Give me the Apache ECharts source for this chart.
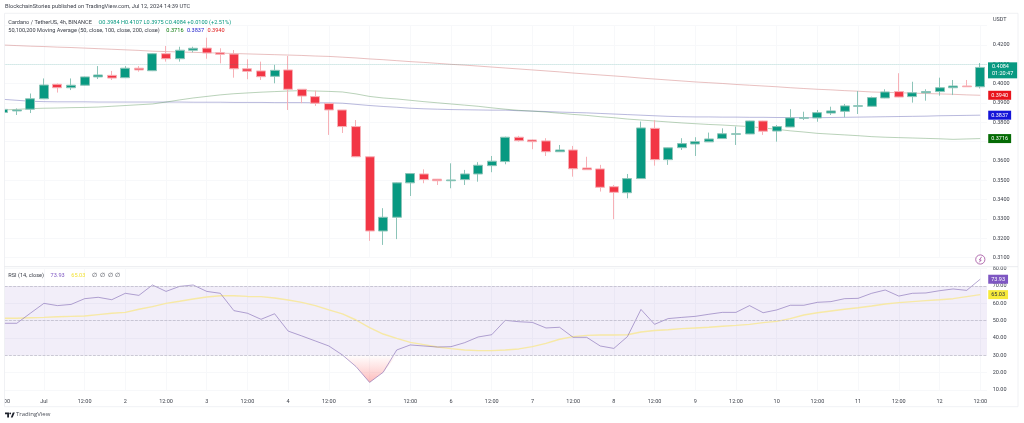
<!DOCTYPE html>
<html>
<head>
<meta charset="utf-8">
<title>ADA/USDT</title>
<script src="https://cdn.jsdelivr.net/npm/echarts@6/dist/echarts.min.js"></script>
<style>
html,body{margin:0;padding:0;background:#fff;}
#main{width:1024px;height:423px;}
</style>
</head>
<body>
<div id="main"></div>
<script>
// x axis, one entry per 4h candle, Jun 30 12:00 to Jul 12 12:00
var categories = [
    '12:00','16:00','20:00','Jul','04:00','08:00','12:00','16:00','20:00','2','04:00','08:00',
    '12:00','16:00','20:00','3','04:00','08:00','12:00','16:00','20:00','4','04:00','08:00',
    '12:00','16:00','20:00','5','04:00','08:00','12:00','16:00','20:00','6','04:00','08:00',
    '12:00','16:00','20:00','7','04:00','08:00','12:00','16:00','20:00','8','04:00','08:00',
    '12:00','16:00','20:00','9','04:00','08:00','12:00','16:00','20:00','10','04:00','08:00',
    '12:00','16:00','20:00','11','04:00','08:00','12:00','16:00','20:00','12','04:00','08:00',
    '12:00'
];
var opens = [
    .3851,.3859,.3868,.3922,.3997,.3979,.3992,.4035,.4043,.4031,.4080,.4067,
    .4155,.4129,.4173,.4184,.4160,.4153,.4077,.4066,.4038,.4071,.3971,.3933,
    .3897,.3864,.3778,.3622,.3238,.3309,.3487,.3533,.3506,.3498,.3504,.3533,
    .3576,.3597,.3723,.3709,.3704,.3648,.3657,.3564,.3559,.3467,.3436,.3509,
    .3769,.3607,.3669,.3688,.3699,.3716,.3738,.3740,.3807,.3755,.3776,.3821,
    .3823,.3848,.3857,.3883,.3883,.3926,.3959,.3933,.3953,.3959,.3979,.3988,
    .3984
];
var closes = [
    .3867,.3864,.3922,.3993,.3979,.3992,.4035,.4045,.4029,.4080,.4071,.4155,
    .4129,.4173,.4183,.4159,.4152,.4077,.4064,.4036,.4069,.3971,.3936,.3899,
    .3864,.3778,.3622,.3238,.3309,.3487,.3535,.3504,.3498,.3502,.3533,.3578,
    .3599,.3723,.3705,.3700,.3648,.3657,.3560,.3555,.3464,.3438,.3509,.3771,
    .3607,.3668,.3690,.3700,.3714,.3741,.3741,.3807,.3754,.3778,.3823,.3824,
    .3850,.3859,.3885,.3886,.3928,.3957,.3931,.3953,.3959,.3979,.3988,.3984,
    .4084
];
var lows = [
    .3843,.3838,.3848,.3920,.3954,.3967,.3990,.4024,.4019,.4029,.4062,.4065,
    .4114,.4114,.4162,.4129,.4105,.4031,.4023,.4019,.4002,.3864,.3899,.3885,
    .3735,.3745,.3620,.3187,.3166,.3196,.3419,.3485,.3476,.3459,.3476,.3493,
    .3542,.3583,.3700,.3661,.3626,.3647,.3519,.3554,.3442,.3299,.3407,.3507,
    .3576,.3580,.3657,.3626,.3698,.3715,.3683,.3739,.3735,.3700,.3775,.3812,
    .3803,.3838,.3826,.3843,.3882,.3925,.3930,.3902,.3912,.3938,.3941,.3983,
    .3975
];
var highs = [
    .3874,.3872,.3949,.4027,.4001,.4027,.4037,.4091,.4066,.4091,.4091,.4157,
    .4195,.4191,.4191,.4238,.4183,.4174,.4126,.4114,.4097,.4143,.3972,.3964,
    .3897,.3864,.3812,.3624,.3356,.3489,.3537,.3557,.3507,.3588,.3554,.3594,
    .3626,.3726,.3730,.3712,.3718,.3683,.3678,.3622,.3580,.3476,.3533,.3804,
    .3812,.3669,.3718,.3723,.3747,.3769,.3778,.3808,.3808,.3786,.3868,.3855,
    .3864,.3881,.3895,.3962,.3933,.3971,.4054,.4010,.3971,.4031,.4019,.4019,
    .4107
];
var ma50 = [
    .3864,.3867,.3871,.3873,.3874,.3876,.3877,.3879,.3883,.3887,.3891,.3895,
    .3905,.3916,.3926,.3934,.3942,.3948,.3952,.3956,.3959,.3962,.3964,.3962,
    .3960,.3957,.3947,.3934,.3926,.3921,.3914,.3907,.3901,.3895,.3889,.3883,
    .3875,.3868,.3862,.3858,.3853,.3847,.3841,.3836,.3829,.3824,.3817,.3812,
    .3807,.3802,.3797,.3793,.3789,.3786,.3782,.3778,.3771,.3764,.3756,.3750,
    .3743,.3739,.3735,.3731,.3726,.3723,.3721,.3719,.3717,.3715,.3712,.3714,
    .3716
];
var ma100 = [
    .3919,.3914,.3909,.3907,.3906,.3906,.3906,.3905,.3905,.3905,.3905,.3905,
    .3905,.3905,.3904,.3904,.3904,.3903,.3903,.3903,.3902,.3902,.3902,.3901,
    .3901,.3899,.3893,.3887,.3882,.3878,.3873,.3870,.3868,.3866,.3865,.3864,
    .3863,.3863,.3860,.3858,.3856,.3853,.3851,.3849,.3846,.3843,.3840,.3837,
    .3834,.3831,.3829,.3828,.3828,.3827,.3827,.3826,.3826,.3825,.3825,.3824,
    .3824,.3825,.3826,.3827,.3828,.3829,.3830,.3831,.3832,.3834,.3835,.3836,
    .3837
];
var ma200 = [
    .4200,.4197,.4194,.4192,.4189,.4187,.4184,.4181,.4178,.4175,.4172,.4168,
    .4166,.4164,.4162,.4160,.4158,.4156,.4154,.4152,.4150,.4148,.4146,.4143,
    .4141,.4137,.4133,.4128,.4124,.4119,.4114,.4110,.4105,.4100,.4096,.4091,
    .4086,.4081,.4076,.4071,.4066,.4061,.4055,.4050,.4045,.4040,.4035,.4029,
    .4024,.4019,.4014,.4009,.4005,.4001,.3996,.3992,.3988,.3984,.3979,.3975,
    .3971,.3968,.3964,.3961,.3957,.3955,.3953,.3951,.3949,.3947,.3945,.3942,
    .3940
];
var rsi = [
    48.5,48.5,54.3,60.0,58.7,59.4,62.7,63.5,62.1,65.8,64.6,70.6,
    66.9,69.8,70.6,66.9,65.8,55.8,54.3,50.8,54.0,44.0,41.2,38.3,
    35.4,30.2,23.5,14.4,20.2,33.1,36.0,35.4,34.8,35.0,37.3,40.6,
    41.9,50.2,49.4,49.0,45.8,46.2,40.4,40.4,35.4,34.0,40.8,56.5,
    47.9,51.2,51.9,52.5,53.7,54.8,54.8,58.7,54.6,56.2,58.9,58.9,
    60.6,61.0,62.7,62.9,65.8,67.7,64.2,65.8,66.0,67.3,68.3,67.5,
    73.93
];
var rsiMa = [
    51.4,51.4,51.7,51.9,52.3,52.5,52.7,53.5,54.3,54.8,56.6,58.1,
    60.0,61.2,62.5,63.7,64.4,64.4,64.0,63.9,63.1,61.9,60.6,58.7,
    56.2,53.9,50.4,46.0,42.3,39.8,37.5,36.2,34.8,33.9,33.1,32.7,
    32.7,33.1,33.7,35.0,36.9,39.3,40.8,41.5,41.7,41.7,41.9,43.5,
    44.3,44.8,45.4,45.8,46.2,46.8,47.3,47.9,48.9,49.6,51.2,53.3,
    54.6,55.6,56.6,57.5,58.5,59.6,60.4,61.0,61.6,62.1,62.7,63.9,
    65.03
];

var candleData = categories.map(function (c, i) {
    return [opens[i], closes[i], lows[i], highs[i]];
});
// only the part of the RSI under the oversold line gets the red fill
var rsiLow = rsi.map(function (v) { return v < 30 ? v : 30; });

var UP = '#089981', DOWN = '#f23645';
var FONT = 'Roboto, "Liberation Sans", sans-serif';
var faint = '#f7f8fa';

function lastTag(bg, fg, digits) {
    return {
        show: true,
        distance: 8,
        fontFamily: FONT,
        fontSize: 5.5,
        color: fg,
        backgroundColor: bg,
        padding: [1.5, 3, 1.5, 3],
        formatter: function (p) { return p.value[1] !== undefined ? p.value[1].toFixed(digits) : p.value.toFixed(digits); }
    };
}

var myChart = echarts.init(document.getElementById('main'), null, {renderer: 'canvas'});
var option = {
    animation: false,
    backgroundColor: '#fff',
    grid: [
        {left: -3.585, width: 990.6, top: 25.67, height: 232, containLabel: false, outerBoundsMode: 'none'},
        {left: -3.585, width: 990.6, top: 268.7, height: 121.3, containLabel: false, outerBoundsMode: 'none'}
    ],
    xAxis: [
        {
            type: 'category', gridIndex: 0, data: categories,
            axisLine: {show: false}, axisTick: {show: false}, axisLabel: {show: false},
            splitLine: {show: true, interval: 2, alignWithLabel: true, lineStyle: {color: faint}}
        },
        {
            type: 'category', gridIndex: 1, data: categories,
            axisLine: {show: false}, axisTick: {show: false},
            axisLabel: {interval: 2, margin: 9, fontFamily: FONT, fontSize: 5.5, color: '#3a3e48', hideOverlap: false},
            splitLine: {show: true, interval: 2, alignWithLabel: true, lineStyle: {color: faint}}
        }
    ],
    yAxis: [
        {
            type: 'value', gridIndex: 0, position: 'right', min: 0.31, max: 0.43, interval: 0.01,
            axisLine: {show: false}, axisTick: {show: false},
            axisLabel: {
                margin: 5.7, fontFamily: FONT, fontSize: 5.5, color: '#3a3e48',
                formatter: function (v) { return v > 0.425 ? '' : v.toFixed(4); }
            },
            splitLine: {lineStyle: {color: faint}}
        },
        {
            type: 'value', gridIndex: 1, position: 'right', min: 10, max: 80, interval: 10,
            axisLine: {show: false}, axisTick: {show: false},
            axisLabel: {
                margin: 5.7, fontFamily: FONT, fontSize: 5.5, color: '#3a3e48',
                formatter: function (v) { return v.toFixed(2); }
            },
            splitLine: {lineStyle: {color: faint}}
        }
    ],
    series: [
        {
            name: 'MA200', type: 'line', xAxisIndex: 0, yAxisIndex: 0, data: ma200, symbol: 'none', z: 3,
            lineStyle: {color: 'rgba(205,110,110,0.55)', width: 0.8},
            endLabel: lastTag('#e8141c', '#fff', 4)
        },
        {
            name: 'MA100', type: 'line', xAxisIndex: 0, yAxisIndex: 0, data: ma100, symbol: 'none', z: 3,
            lineStyle: {color: 'rgba(80,80,170,0.5)', width: 0.8},
            endLabel: lastTag('#1414d8', '#fff', 4)
        },
        {
            name: 'MA50', type: 'line', xAxisIndex: 0, yAxisIndex: 0, data: ma50, symbol: 'none', z: 3,
            lineStyle: {color: 'rgba(60,130,60,0.45)', width: 0.8},
            endLabel: lastTag('#056b05', '#fff', 4)
        },
        {
            name: 'ADAUSDT', type: 'candlestick', xAxisIndex: 0, yAxisIndex: 0, data: candleData,
            barWidth: 9.5, z: 4,
            itemStyle: {color: UP, color0: DOWN, borderColor: '#8cc4b8', borderColor0: '#f7b0b6', borderWidth: 1},
            markLine: {
                silent: true, symbol: 'none',
                lineStyle: {color: 'rgba(8,153,129,0.25)', type: 'dotted', width: 1},
                label: {
                    position: 'end', distance: 1, offset: [0, 6],
                    fontFamily: FONT, fontSize: 5.5, lineHeight: 7, color: '#fff', align: 'left',
                    backgroundColor: UP, padding: [1, 4, 1, 4],
                    formatter: closes[closes.length - 1].toFixed(4) + '\n01:20:47'
                },
                data: [{yAxis: closes[closes.length - 1]}]
            }
        },
        {
            name: 'RSI', type: 'line', xAxisIndex: 1, yAxisIndex: 1, data: rsi, symbol: 'none', z: 4,
            lineStyle: {color: 'rgba(120,95,175,0.7)', width: 0.8},
            endLabel: lastTag('#7e57c2', '#fff', 2),
            markArea: {
                silent: true,
                itemStyle: {color: 'rgba(126,87,194,0.1)'},
                data: [[{yAxis: 30}, {yAxis: 70}]]
            },
            markLine: {
                silent: true, symbol: 'none', label: {show: false},
                lineStyle: {color: '#b9b6c6', type: 'dashed', width: 0.7},
                data: [{yAxis: 70}, {yAxis: 50}, {yAxis: 30}]
            }
        },
        {
            name: 'RSI MA', type: 'line', xAxisIndex: 1, yAxisIndex: 1, data: rsiMa, symbol: 'none', z: 3,
            lineStyle: {color: 'rgba(247,232,160,0.95)', width: 1.4},
            endLabel: lastTag('#f7ea3a', '#30343e', 2)
        },
        {
            name: 'Oversold', type: 'line', xAxisIndex: 1, yAxisIndex: 1, data: rsiLow, symbol: 'none', z: 2,
            lineStyle: {width: 0},
            areaStyle: {
                origin: 30,
                color: new echarts.graphic.LinearGradient(0, 0, 0, 1, [
                    {offset: 0, color: 'rgba(255,120,120,0.02)'},
                    {offset: 1, color: 'rgba(250,90,90,0.6)'}
                ])
            }
        }
    ],
    graphic: [
        // left cut-off of the panes
        {type: 'rect', z: 100, silent: true, shape: {x: 0, y: 10, width: 4.5, height: 396}, style: {fill: '#fff'}},
        // pane frame and separators
        {type: 'rect', z: 101, silent: true, shape: {x: 4.5, y: 13.3, width: 1013.5, height: 393.4}, style: {fill: 'none', stroke: '#eceef1', lineWidth: 0.8}},
        {type: 'line', z: 101, silent: true, shape: {x1: 4.5, y1: 266.7, x2: 1018, y2: 266.7}, style: {stroke: '#e4e6ea', lineWidth: 0.8}},
        {
            type: 'text', z: 102, left: 5, top: 4,
            style: {text: 'BlockchainStories published on TradingView.com, Jul 12, 2024 14:39 UTC', fontFamily: FONT, fontSize: 5.7, fill: '#3a3e48'}
        },
        {
            type: 'text', z: 102, left: 8.3, top: 16.5,
            style: {
                text: '{a|Cardano / TetherUS, 4h, BINANCE}  {u|O0.3984 H0.4107 L0.3975 C0.4084 +0.0100 (+2.51%)}',
                rich: {
                    a: {fontFamily: FONT, fontSize: 5.6, fill: '#3a3e48'},
                    u: {fontFamily: FONT, fontSize: 5.6, fill: UP}
                }
            }
        },
        {
            type: 'text', z: 102, left: 8.3, top: 24.7,
            style: {
                text: '{a|50,100,200 Moving Average (50, close, 100, close, 200, close)}  {g|0.3716} {b|0.3837} {r|0.3940}',
                rich: {
                    a: {fontFamily: FONT, fontSize: 5.6, fill: '#3a3e48'},
                    g: {fontFamily: FONT, fontSize: 5.6, fill: '#0a7a0a'},
                    b: {fontFamily: FONT, fontSize: 5.6, fill: '#2222cc'},
                    r: {fontFamily: FONT, fontSize: 5.6, fill: '#e02020'}
                }
            }
        },
        {
            type: 'text', z: 102, left: 8.3, top: 270,
            style: {
                text: '{a|RSI (14, close)}  {p|73.93}  {y|65.03}  {a|∅  ∅  ∅  ∅}',
                rich: {
                    a: {fontFamily: FONT, fontSize: 5.6, fill: '#3a3e48'},
                    p: {fontFamily: FONT, fontSize: 5.6, fill: '#7e57c2'},
                    y: {fontFamily: FONT, fontSize: 5.6, fill: '#f2e23a'}
                }
            }
        },
        {
            type: 'text', z: 102, left: 993, top: 16.5,
            style: {text: 'USDT', fontFamily: FONT, fontSize: 5.5, fill: '#3a3e48'}
        },
        // pink circle with the bolt
        {type: 'circle', z: 102, silent: true, shape: {cx: 980.3, cy: 259.5, r: 4.6}, style: {fill: '#fff', stroke: '#a04a9c', lineWidth: 0.8}},
        {type: 'polyline', z: 102, silent: true, shape: {points: [[981.6, 256.8], [979.4, 260], [981.2, 260], [979.2, 262.4]]}, style: {fill: 'none', stroke: '#a04a9c', lineWidth: 0.8}},
        // TradingView mark
        {type: 'polygon', z: 102, silent: true, shape: {points: [[5, 412.5], [9, 412.5], [9, 417.5], [7.2, 417.5], [7.2, 414.2], [5, 414.2]]}, style: {fill: '#1d212b'}},
        {type: 'circle', z: 102, silent: true, shape: {cx: 10.2, cy: 413.4, r: 0.9}, style: {fill: '#1d212b'}},
        {type: 'polygon', z: 102, silent: true, shape: {points: [[10.8, 417.5], [12.8, 412.5], [14.8, 412.5], [12.6, 417.5]]}, style: {fill: '#1d212b'}},
        {
            type: 'text', z: 102, left: 16, top: 411.5,
            style: {text: 'TradingView', fontFamily: '"Open Sans", sans-serif', fontSize: 6, fill: '#4a4e58'}
        }
    ]
};
myChart.setOption(option);
</script>
</body>
</html>
